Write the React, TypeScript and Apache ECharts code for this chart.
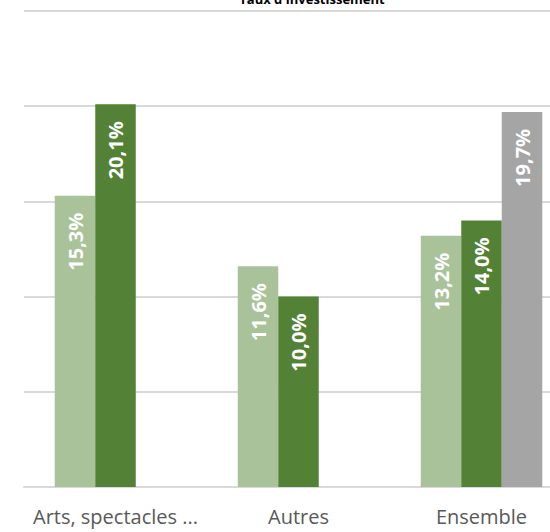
import React, { useEffect, useRef } from "react";
import * as echarts from "echarts";

const titleText = "Taux d'investissement";
const categories = ["Arts, spectacles ...", "Autres", "Ensemble"];
const seriesA = [15.3, 11.6, 13.2];
const seriesB = [20.1, 10.0, 14.0];
const seriesC = [null, null, 19.7];
const yTicks = { min: 0, max: 25, interval: 5 };

const colors = ["#A9C29A", "#538135", "#A5A5A5"];
const FONT = "'Open Sans', sans-serif";

const fmt = (v: any) => {
  const n = typeof v === "number" ? v : v?.value;
  if (n === null || n === undefined) return "";
  return n.toFixed(1).replace(".", ",") + "%";
};

export default function App() {
  const ref = useRef<HTMLDivElement>(null);
  useEffect(() => {
    if (!ref.current) return;
    const chart = echarts.init(ref.current, null, { renderer: "svg" });
    const mkSeries = (data: any[], color: string) => ({
      type: "bar",
      data,
      barWidth: 40.5,
      barGap: "0%",
      itemStyle: { color },
      label: {
        show: true,
        position: "insideTop",
        rotate: 90,
        align: "right",
        verticalAlign: "middle",
        distance: 17,
        color: "#FFFFFF",
        fontFamily: FONT,
        fontWeight: "bold",
        fontSize: 20,
        formatter: (p: any) => fmt(p.value),
      },
    });
    chart.setOption({
      animation: false,
      backgroundColor: "#FFFFFF",
      title: {
        text: titleText,
        left: 307,
        textAlign: "center",
        top: -13,
        textStyle: { fontFamily: FONT, fontWeight: "bold", fontSize: 13, color: "#000000" },
      },
      graphic: [
        {
          type: "rect",
          z: 100,
          shape: { x: 0, y: 0, width: 23, height: 495 },
          style: { fill: "#FFFFFF" },
        },
      ],
      grid: {
        left: 24,
        width: 549,
        top: 11,
        bottom: 45,
        containLabel: false,
        outerBoundsMode: "none",
      },
      xAxis: {
        type: "category",
        data: categories,
        axisTick: { show: false },
        axisLine: { lineStyle: { color: "#D9D9D9", width: 2 } },
        axisLabel: {
          color: "#595959",
          fontFamily: FONT,
          fontSize: 20,
          margin: 19,
          interval: 0,
        },
      },
      yAxis: {
        type: "value",
        min: yTicks.min,
        max: yTicks.max,
        interval: yTicks.interval,
        axisLabel: { show: false },
        axisLine: { show: false },
        axisTick: { show: false },
        splitLine: { lineStyle: { color: "#D9D9D9", width: 2 } },
      },
      series: [
        mkSeries(seriesA, colors[0]),
        mkSeries(seriesB, colors[1]),
        mkSeries(seriesC, colors[2]),
      ],
    });
    return () => chart.dispose();
  }, []);
  return (
    <div
      ref={ref}
      style={{ position: "absolute", left: 0, top: 0, width: 550, height: 532, overflow: "hidden" }}
    />
  );
}
